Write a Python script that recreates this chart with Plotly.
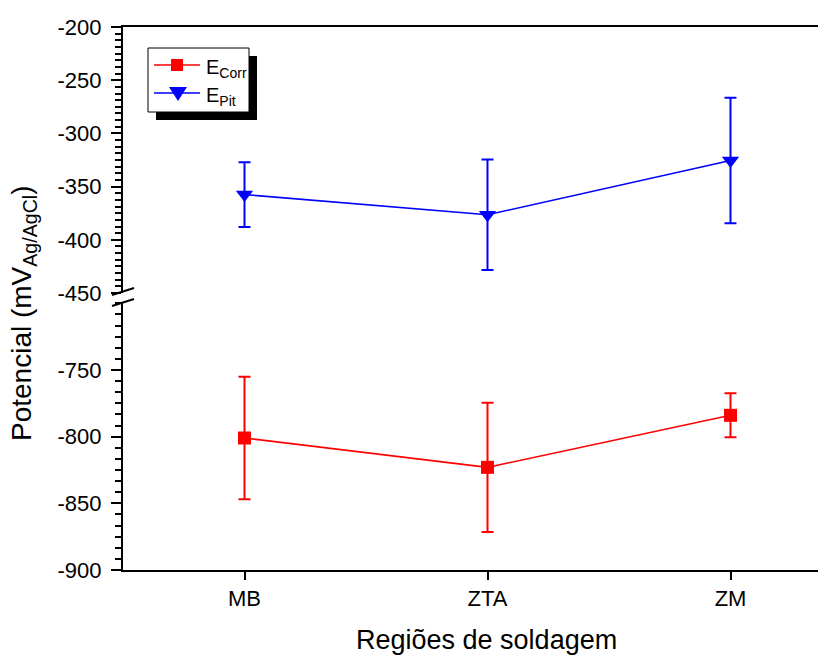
import plotly.graph_objects as go

# Welding regions and measured potentials (mV vs Ag/AgCl)
regions = ["MB", "ZTA", "ZM"]
e_corr = [-801, -823, -784]
e_corr_err = [46, 48.5, 16.5]
e_pit = [-357.5, -376.5, -325.5]
e_pit_err = [30.5, 52, 59]

# Tick labels of the two broken-axis segments
top_ticks = [-450, -400, -350, -300, -250, -200]
bottom_ticks = [-900, -850, -800, -750]

FONT = "Arial, Liberation Sans, sans-serif"
W, H = 838, 656
L, R, T, B = 123, 20, 27, 86
PW, PH = W - L - R, H - T - B
CAT_PX = 243  # pixels per category step

RED, BLUE = "#ff0000", "#0000ff"


def px_x(p):
    return (p - L) / PW


def px_y(p):
    return (H - B - p) / PH


fig = go.Figure()

fig.add_trace(go.Scatter(
    x=regions, y=e_corr, name="E<sub>Corr</sub>",
    mode="lines+markers", xaxis="x", yaxis="y",
    line=dict(color=RED, width=1.6),
    marker=dict(symbol="square", size=13, color=RED),
    error_y=dict(type="data", array=e_corr_err, visible=True,
                 color=RED, thickness=2, width=6),
))
fig.add_trace(go.Scatter(
    x=regions, y=e_pit, name="E<sub>Pit</sub>",
    mode="lines+markers", xaxis="x2", yaxis="y2",
    line=dict(color=BLUE, width=1.6),
    marker=dict(symbol="triangle-down", size=15, color=BLUE),
    error_y=dict(type="data", array=e_pit_err, visible=True,
                 color=BLUE, thickness=2, width=6),
))

ybot_top = px_y(302)
ytop_bot = px_y(293)

axis_common = dict(
    showline=True, linecolor="black", linewidth=2, mirror=False,
    ticks="outside", ticklen=10, tickwidth=2, tickcolor="black",
    showgrid=False, zeroline=False,
    tickfont=dict(family=FONT, size=22, color="black"),
)

fig.update_layout(
    width=W, height=H,
    margin=dict(l=L, r=R, t=T, b=B),
    paper_bgcolor="white", plot_bgcolor="white",
    font=dict(family=FONT, color="black"),
    showlegend=False,
    xaxis=dict(
        domain=[0, 1], anchor="y", type="category",
        range=[-0.5, -0.5 + PW / CAT_PX], mirror=False,
        showline=True, linecolor="black", linewidth=2,
        ticks="outside", ticklen=8, tickwidth=2, tickcolor="black",
        showgrid=False, zeroline=False,
        tickfont=dict(family=FONT, size=22, color="black"),
    ),
    xaxis2=dict(
        domain=[0, 1], anchor="y2", matches="x", type="category",
        side="top", showline=True, linecolor="black", linewidth=2,
        mirror=False,
        showticklabels=False, ticks="", showgrid=False, zeroline=False,
    ),
    yaxis=dict(
        domain=[0, ybot_top], range=[-900, -699], anchor="x",
        tickmode="array", tickvals=bottom_ticks,
        ticktext=[str(v) for v in bottom_ticks],
        ticklabelstandoff=5,
        minor=dict(ticks="outside", ticklen=6, tickwidth=1.5,
                   tickcolor="black", dtick=50 / 6, tick0=-900),
        **axis_common,
    ),
    yaxis2=dict(
        domain=[ytop_bot, 1], range=[-450, -200], anchor="x2",
        tickmode="array", tickvals=top_ticks,
        ticktext=[str(v) for v in top_ticks],
        ticklabelstandoff=5,
        minor=dict(ticks="outside", ticklen=6, tickwidth=1.5,
                   tickcolor="black", dtick=50 / 8, tick0=-450),
        **axis_common,
    ),
)

# Axis titles
fig.add_annotation(
    text="Regiões de soldagem", xref="paper", yref="paper",
    x=px_x(486), y=px_y(640), xanchor="center", yanchor="middle",
    showarrow=False, font=dict(family=FONT, size=27, color="black"),
)
fig.add_annotation(
    text="Potencial (mV<sub>Ag/AgCl</sub>)", xref="paper", yref="paper",
    x=px_x(23), y=px_y(313), xanchor="center", yanchor="middle",
    textangle=-90, showarrow=False,
    font=dict(family=FONT, size=28, color="black"),
)

# Legend box with drop shadow
fig.add_shape(type="rect", xref="paper", yref="paper",
              x0=px_x(156), x1=px_x(257), y0=px_y(120), y1=px_y(56),
              fillcolor="black", line=dict(width=0))
fig.add_shape(type="rect", xref="paper", yref="paper",
              x0=px_x(148), x1=px_x(249), y0=px_y(112), y1=px_y(48),
              fillcolor="white", line=dict(color="black", width=1))

legend_rows = [
    ("E<sub>Corr</sub>", RED, "square", 65),
    ("E<sub>Pit</sub>", BLUE, "triangle", 93),
]
for label, color, symbol, yc in legend_rows:
    fig.add_shape(type="line", xref="paper", yref="paper",
                  x0=px_x(154), x1=px_x(200), y0=px_y(yc), y1=px_y(yc),
                  line=dict(color=color, width=1.6))
    if symbol == "square":
        fig.add_shape(type="rect", xref="paper", yref="paper",
                      x0=px_x(171), x1=px_x(183),
                      y0=px_y(yc + 6), y1=px_y(yc - 6),
                      fillcolor=color, line=dict(width=0))
    else:
        path = "M {:.5f} {:.5f} L {:.5f} {:.5f} L {:.5f} {:.5f} Z".format(
            px_x(169), px_y(yc - 6), px_x(187), px_y(yc - 6),
            px_x(178), px_y(yc + 8))
        fig.add_shape(type="path", xref="paper", yref="paper", path=path,
                      fillcolor=color, line=dict(width=0))
    fig.add_annotation(
        text=label, xref="paper", yref="paper",
        x=px_x(204), y=px_y(yc + 3), xanchor="left", yanchor="middle",
        showarrow=False, font=dict(family=FONT, size=20, color="black"),
    )

# Axis break marks
for y0, y1 in [(295, 288), (306, 299)]:
    fig.add_shape(
        type="line", xref="paper", yref="paper",
        x0=px_x(112), x1=px_x(134), y0=px_y(y0), y1=px_y(y1),
        line=dict(color="black", width=2),
    )

fig.write_html("out.html")
